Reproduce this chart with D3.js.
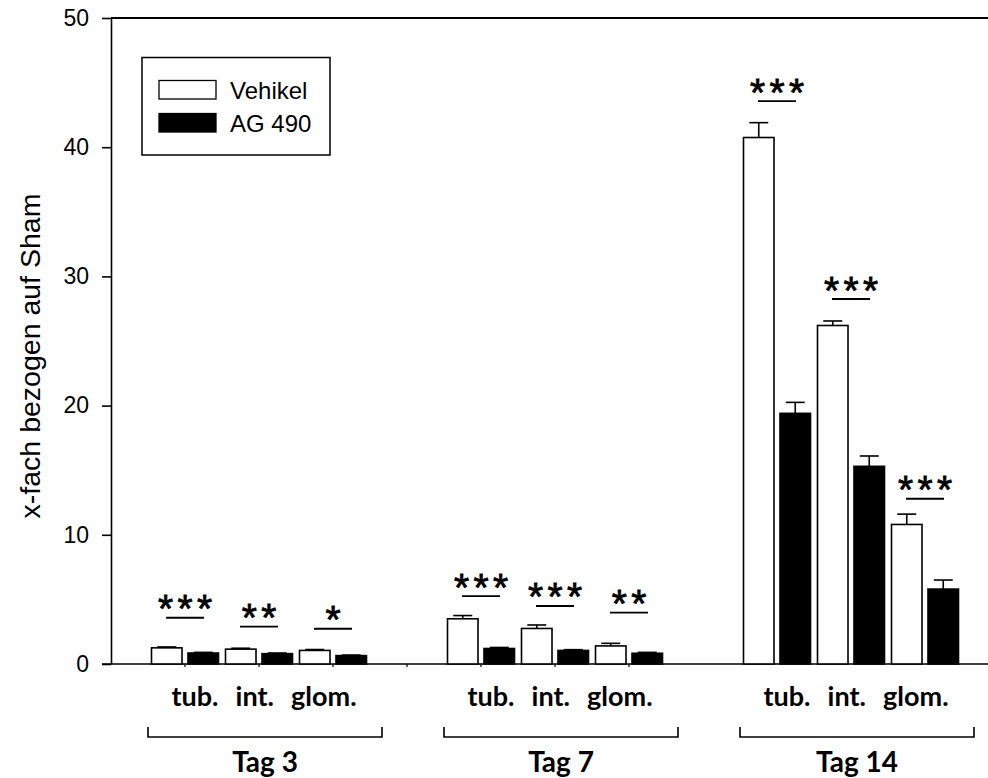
<!DOCTYPE html>
<html>
<head>
<meta charset="utf-8">
<script src="https://cdn.jsdelivr.net/npm/d3@7"></script>
<style>
  html, body { margin: 0; padding: 0; background: #fff; }
  svg { display: block; }
</style>
</head>
<body>
<svg id="chart" width="988" height="778"></svg>
<script>
// Days and tissue compartments
const days = ["Tag 3", "Tag 7", "Tag 14"];
const compartments = ["tub.", "int.", "glom."];
const seriesNames = ["Vehikel", "AG 490"];

// Fold change relative to Sham, one value per day × compartment (Tag 3, Tag 7, Tag 14)
const vehikel    = [1.25, 1.15, 1.05,  3.5, 2.75, 1.4,  40.75, 26.2, 10.8];
const ag490      = [0.85, 0.8,  0.65,  1.2, 1.05, 0.83, 19.4,  15.3, 5.8];
// Upper error (SEM)
const vehikelErr = [0.07, 0.07, 0.07,  0.25, 0.27, 0.2,  1.15,  0.35, 0.8];
const ag490Err   = [0.05, 0.05, 0.04,  0.08, 0.06, 0.07, 0.85,  0.8,  0.7];
// Significance (Vehikel vs AG 490) and the level of its bar
const sigStars   = ["***", "**", "*",  "***", "***", "**",  "***", "***", "***"];
const sigLevel   = [3.58, 2.89, 2.73,  5.26, 4.49, 3.97,  43.57, 28.25, 12.79];
// Slot of each compartment on the category axis (one empty slot between days)
const slots      = [1, 2, 3,  5, 6, 7,  9, 10, 11];
const yTicks     = [0, 10, 20, 30, 40, 50];

const svg = d3.select("#chart");
const W = 988;
const x0 = 111, yTop = 18, yBase = 664;

const x = d3.scaleLinear().domain([0, 12]).range([x0, x0 + 74 * 12]);
const y = d3.scaleLinear().domain([0, 50]).range([yBase, yTop]);
const inner = d3.scaleBand().domain(seriesNames).range([-33.5, 33.5]).paddingInner(0.164);

const rows = slots.map((s, i) => ({
  slot: s,
  day: days[Math.floor(i / 3)],
  comp: compartments[i % 3],
  values: [
    { name: "Vehikel", v: vehikel[i], e: vehikelErr[i] },
    { name: "AG 490", v: ag490[i], e: ag490Err[i] }
  ],
  stars: sigStars[i],
  level: sigLevel[i]
}));

const font = "'Liberation Sans', Arial, sans-serif";
const boldFont = "Lato, 'Open Sans', sans-serif";

// Frame: top border and baseline
svg.append("line")
  .attr("x1", x0).attr("x2", W).attr("y1", y(50)).attr("y2", y(50))
  .attr("stroke", "#000").attr("stroke-width", 2);
svg.append("line")
  .attr("x1", x0 - 9).attr("x2", W).attr("y1", y(0)).attr("y2", y(0))
  .attr("stroke", "#000").attr("stroke-width", 1.6);

// Category ticks on the baseline
const catTicks = [1, 2, 3, 4, 5, 6, 7];
svg.append("g").selectAll("line").data(catTicks).join("line")
  .attr("x1", d => x(d)).attr("x2", d => x(d))
  .attr("y1", y(0)).attr("y2", y(0) + 3)
  .attr("stroke", "#000").attr("stroke-width", 1.2);

// Y axis
const yAxis = d3.axisLeft(y).tickValues(yTicks).tickSize(9).tickSizeOuter(0).tickPadding(13);
const gy = svg.append("g").attr("transform", `translate(${x0},0)`).call(yAxis);
gy.select(".domain").attr("stroke-width", 1.6);
gy.selectAll(".tick line").attr("stroke-width", 1.6);
gy.selectAll(".tick text").attr("font-family", font).attr("font-size", 23).attr("fill", "#000");

// Y axis title
svg.append("text")
  .attr("transform", `translate(40, 356) rotate(-90)`)
  .attr("text-anchor", "middle")
  .attr("font-family", font).attr("font-size", 28.5)
  .text("x-fach bezogen auf Sham");

// Bars
const groups = svg.append("g").selectAll("g").data(rows).join("g")
  .attr("transform", d => `translate(${x(d.slot)},0)`);

// Error bars (upper only)
groups.selectAll("g.err").data(d => d.values).join("g").attr("class", "err")
  .each(function(d) {
    const g = d3.select(this);
    const cx = inner(d.name) + inner.bandwidth() / 2;
    g.append("line").attr("x1", cx).attr("x2", cx)
      .attr("y1", y(d.v)).attr("y2", y(d.v + d.e))
      .attr("stroke", "#000").attr("stroke-width", 1.6);
    g.append("line").attr("x1", cx - 9.5).attr("x2", cx + 9.5)
      .attr("y1", y(d.v + d.e)).attr("y2", y(d.v + d.e))
      .attr("stroke", "#000").attr("stroke-width", 1.6);
  });

groups.selectAll("rect").data(d => d.values).join("rect")
  .attr("x", d => inner(d.name))
  .attr("width", inner.bandwidth())
  .attr("y", d => y(d.v))
  .attr("height", d => y(0) - y(d.v))
  .attr("fill", d => d.name === "Vehikel" ? "#fff" : "#000")
  .attr("stroke", "#000").attr("stroke-width", 1.6);

// Significance markers: bar with asterisks above
groups.append("line")
  .attr("x1", -19).attr("x2", 19)
  .attr("y1", d => y(d.level)).attr("y2", d => y(d.level))
  .attr("stroke", "#000").attr("stroke-width", 1.8);
groups.each(function(d) {
  const n = d.stars.length;
  const g = d3.select(this);
  for (let k = 0; k < n; k++) {
    g.append("text")
      .attr("x", (k - (n - 1) / 2) * 19.5)
      .attr("y", y(d.level) + 4.5)
      .attr("text-anchor", "middle")
      .attr("font-family", font).attr("font-size", 39)
      .attr("stroke", "#000").attr("stroke-width", 0.8)
      .text("*");
  }
});

// Compartment labels, one line per day
const dayCenters = days.map((d, i) => x(slots[i * 3 + 1]) + 6);
svg.append("g").selectAll("text").data(days).join("text")
  .attr("x", (d, i) => dayCenters[i] - 1)
  .attr("y", 706)
  .attr("text-anchor", "middle")
  .attr("font-family", boldFont).attr("font-weight", "bold").attr("font-size", 27)
  .attr("word-spacing", 2)
  .attr("xml:space", "preserve")
  .style("white-space", "pre")
  .text(compartments.join("  "));

// Day brackets and labels
svg.append("g").selectAll("path").data(days).join("path")
  .attr("d", (d, i) => {
    const c = dayCenters[i];
    return `M${c - 117},727V737H${c + 117}V727`;
  })
  .attr("fill", "none").attr("stroke", "#000").attr("stroke-width", 1.6);
svg.append("g").selectAll("text").data(days).join("text")
  .attr("x", (d, i) => dayCenters[i])
  .attr("y", 772)
  .attr("text-anchor", "middle")
  .attr("font-family", boldFont).attr("font-weight", "bold").attr("font-size", 28)
  .text(d => d);

// Legend
const lg = svg.append("g");
lg.append("rect").attr("x", 142).attr("y", 57.5).attr("width", 188).attr("height", 97.5)
  .attr("fill", "#fff").attr("stroke", "#000").attr("stroke-width", 1.5);
seriesNames.forEach((name, i) => {
  lg.append("rect").attr("x", 159).attr("y", 80.5 + i * 33).attr("width", 57).attr("height", 18.5)
    .attr("fill", name === "Vehikel" ? "#fff" : "#000").attr("stroke", "#000").attr("stroke-width", 1.3);
  lg.append("text").attr("x", 230).attr("y", 99 + i * 32.5)
    .attr("font-family", font).attr("font-size", 24).text(name);
});
</script>
</body>
</html>
